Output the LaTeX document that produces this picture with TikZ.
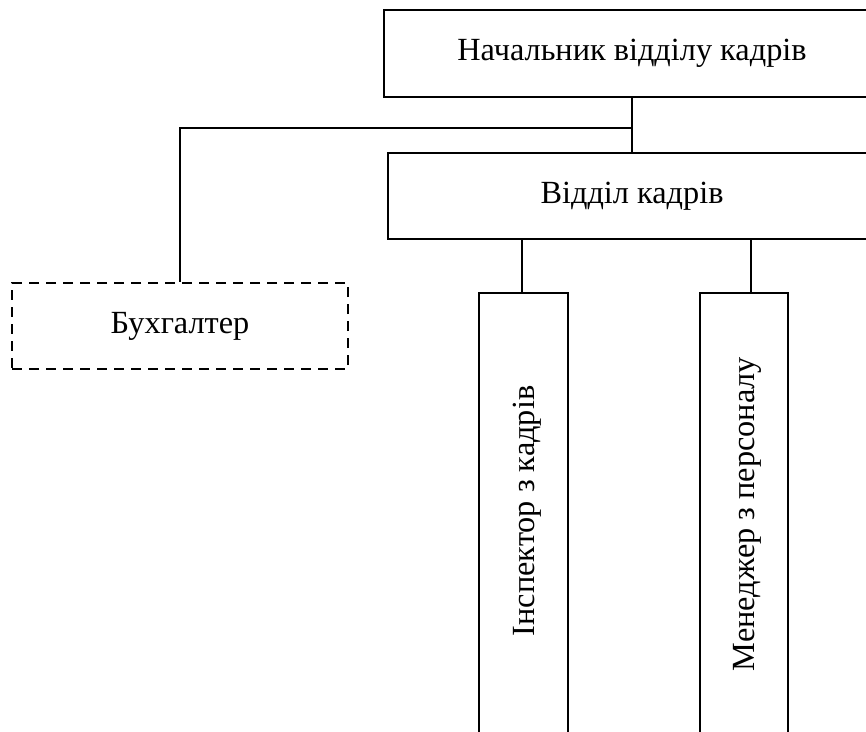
\documentclass[tikz,border=0pt]{standalone}
\usepackage{fontspec}
\setmainfont{Liberation Serif}
\begin{document}
\begin{tikzpicture}[x=1pt,y=-1pt,
  box/.style={draw, line width=2pt, inner sep=0pt, font=\fontsize{32.3}{38}\selectfont},
  dbox/.style={box, dashed, dash pattern=on 10pt off 7pt, line width=2.6pt},
  vtext/.style={rotate=90, inner sep=0pt, font=\fontsize{32.3}{38}\selectfont},
  conn/.style={line width=1.2pt}]
\useasboundingbox (0,0) rectangle (866,731);
\clip (0,0) rectangle (866,731);
\node[box, minimum width=496pt, minimum height=87pt] (head) at (632,53.5) {Начальник відділу кадрів};
\node[box, minimum width=488pt, minimum height=86pt] (dept) at (632,196) {Відділ кадрів};
\node[dbox, minimum width=336pt, minimum height=86pt] (buh) at (180,326) {Бухгалтер};
\node[box, minimum width=89pt, minimum height=510pt] (insp) at (523.5,548) {};
\node[box, minimum width=88pt, minimum height=450pt] (man) at (744,518) {};
\node[vtext] (insptext) at (527,511) {Інспектор з кадрів};
\node[vtext] (mantext) at (747,514) {Менеджер з персоналу};
\draw[conn] (head.south) -- (dept.north);
\draw[conn] (head.south |- 0,128) -- (buh.north |- 0,128) -- (buh.north);
\draw[conn] ([xshift=-1.5pt]insp.north) -- ([xshift=-1.5pt]insp.north |- dept.south);
\draw[conn] ([xshift=7pt]man.north) -- ([xshift=7pt]man.north |- dept.south);
\end{tikzpicture}
\end{document}
